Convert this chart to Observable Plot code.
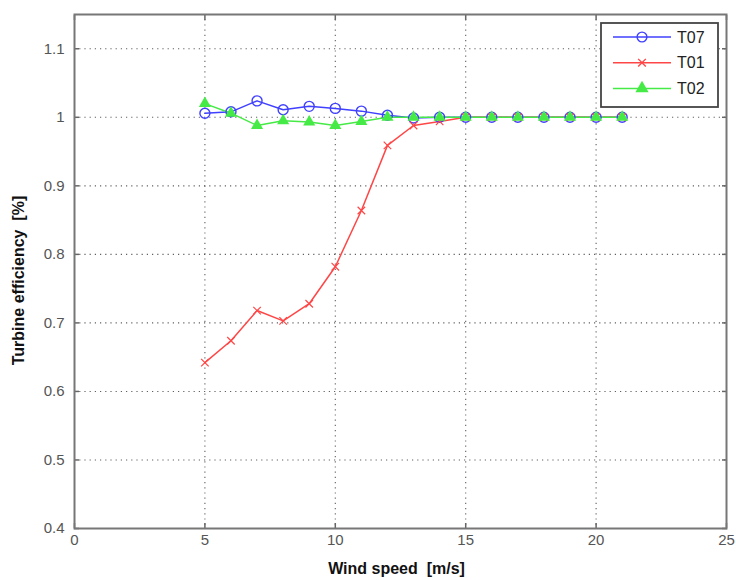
<!DOCTYPE html>
<html>
<head>
<meta charset="utf-8">
<script src="https://cdn.jsdelivr.net/npm/d3@7"></script>
<script src="https://cdn.jsdelivr.net/npm/@observablehq/plot@0.6"></script>
<style>
  body { margin: 0; background: #fff; }
  #chart { width: 736px; height: 580px; }
  #chart svg text { white-space: pre; }
</style>
</head>
<body>
<div id="chart"></div>
<script>
// Wind speed bins (m/s) and turbine efficiency per turbine
const windSpeed = [5, 6, 7, 8, 9, 10, 11, 12, 13, 14, 15, 16, 17, 18, 19, 20, 21];
const t07 = [1.006, 1.008, 1.024, 1.011, 1.016, 1.013, 1.009, 1.003, 0.999, 1, 1, 1, 1, 1, 1, 1, 1];
const t01 = [0.642, 0.674, 0.718, 0.703, 0.728, 0.782, 0.864, 0.959, 0.988, 0.994, 1, 1, 1, 1, 1, 1, 1];
const t02 = [1.020, 1.006, 0.988, 0.995, 0.993, 0.988, 0.994, 1.0, 1.0, 1, 1, 1, 1, 1, 1, 1, 1];

const seriesNames = ["T07", "T01", "T02"];
const seriesValues = [t07, t01, t02];
const seriesColors = ["#4040ff", "#ff4646", "#46ea46"];
const seriesSymbols = ["circle", "times", "triangle"];

const xTicks = [0, 5, 10, 15, 20, 25];
const yTicks = [0.4, 0.5, 0.6, 0.7, 0.8, 0.9, 1, 1.1];
const xLabel = "Wind speed  [m/s]";
const yLabel = "Turbine efficiency  [%]";

const rows = seriesNames.flatMap((name, i) =>
  windSpeed.map((w, j) => ({series: name, speed: w, eff: seriesValues[i][j]}))
);

const fmt = d => String(+d.toFixed(2));
const gridStyle = {stroke: "#444", strokeOpacity: 0.85, strokeWidth: 1.1, strokeDasharray: "1.2,4"};
const tickColor = "#666";

const plot = Plot.plot({
  width: 736,
  height: 580,
  marginLeft: 74,
  marginRight: 10,
  marginTop: 14,
  marginBottom: 52,
  style: {fontFamily: "Liberation Sans, Arial, sans-serif", fontSize: "15px", background: "#fff"},
  x: {domain: [0, 25], ticks: xTicks},
  y: {domain: [0.4, 1.15], ticks: yTicks},
  color: {domain: seriesNames, range: seriesColors},
  symbol: {domain: seriesNames, range: seriesSymbols},
  marks: [
    Plot.ruleX(xTicks.slice(1, -1), gridStyle),
    Plot.ruleY(yTicks.slice(1), gridStyle),
    // inward ticks on all four sides
    Plot.axisX({ticks: xTicks, tickSize: -5, text: null, stroke: tickColor, strokeWidth: 1.5, label: null}),
    Plot.axisX({anchor: "top", ticks: xTicks, tickSize: -5, text: null, stroke: tickColor, strokeWidth: 1.5, label: null}),
    Plot.axisY({ticks: yTicks, tickSize: -5, text: null, stroke: tickColor, strokeWidth: 1.5, label: null}),
    Plot.axisY({anchor: "right", ticks: yTicks, tickSize: -5, text: null, stroke: tickColor, strokeWidth: 1.5, label: null}),
    // tick labels
    Plot.axisX({ticks: xTicks, tickSize: 0, tickPadding: 6, tickFormat: fmt, fill: "#555", fontSize: 15, label: null}),
    Plot.axisY({ticks: yTicks, tickSize: 0, tickPadding: 10, tickFormat: fmt, fill: "#555", fontSize: 15, label: null}),
    Plot.frame({stroke: "#777", strokeWidth: 2}),
    Plot.line(rows, {x: "speed", y: "eff", z: "series", stroke: "series", strokeWidth: 1.5}),
    Plot.dot(rows.filter(d => d.series === "T07"), {x: "speed", y: "eff", stroke: "series", symbol: "series", r: 5, strokeWidth: 1.4, fill: "none"}),
    Plot.dot(rows.filter(d => d.series === "T01"), {x: "speed", y: "eff", stroke: "series", symbol: "series", r: 3.5, strokeWidth: 1.2}),
    Plot.dot(rows.filter(d => d.series === "T02"), {x: "speed", y: "eff", fill: "series", symbol: "series", r: 4.5}),
    // axis titles
    Plot.text([xLabel], {frameAnchor: "bottom", dx: -4, dy: 45, text: d => d, fontWeight: "bold", fontSize: 16, fill: "#111", style: {letterSpacing: "1px"}}),
    Plot.text([yLabel], {frameAnchor: "left", textAnchor: "middle", dx: -56, dy: 9, rotate: -90, text: d => d, fontWeight: "bold", fontSize: 16, fill: "#111"})
  ]
});

// legend box in the upper right corner
const svg = d3.select(plot);
const lg = svg.append("g").attr("transform", "translate(601,23)");
lg.append("rect").attr("width", 117).attr("height", 84)
  .attr("fill", "#fff").attr("stroke", "#444").attr("stroke-width", 1.8);
seriesNames.forEach((name, i) => {
  const y = 14 + i * 25.7;
  const g = lg.append("g").attr("transform", `translate(0,${y})`);
  g.append("line").attr("x1", 12).attr("x2", 70).attr("y1", 0).attr("y2", 0)
    .attr("stroke", seriesColors[i]).attr("stroke-width", 1.5);
  const sym = d3.symbol().type(
    seriesSymbols[i] === "circle" ? d3.symbolCircle : seriesSymbols[i] === "times" ? d3.symbolTimes : d3.symbolTriangle
  ).size(seriesSymbols[i] === "times" ? 40 : 75)();
  const p = g.append("path").attr("d", sym).attr("transform", "translate(41,0)");
  if (seriesSymbols[i] === "triangle") p.attr("fill", seriesColors[i]);
  else p.attr("fill", "none").attr("stroke", seriesColors[i]).attr("stroke-width", 1.4);
  g.append("text").attr("x", 76).attr("y", 0).attr("dy", "0.36em")
    .attr("text-anchor", "start").attr("font-size", 16).attr("fill", "#222").text(name);
});

document.getElementById("chart").appendChild(plot);
</script>
</body>
</html>
